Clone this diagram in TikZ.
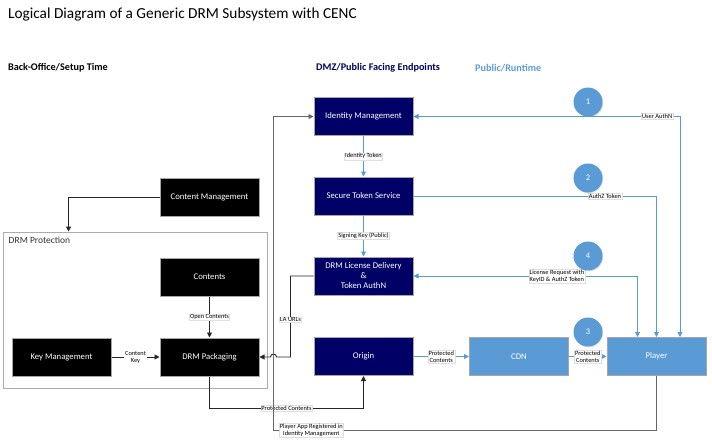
\documentclass[tikz,border=0pt]{standalone}
\usepackage{fontspec}
\setmainfont{Carlito}
\usepackage{tikz}
\usetikzlibrary{calc,positioning,arrows.meta,shadows}

\definecolor{navy}{HTML}{000066}
\definecolor{skyblue}{HTML}{5B9BD5}
\definecolor{boxrim}{HTML}{A6A6A6}

\begin{document}
\begin{tikzpicture}[
  x=1pt, y=-1pt,
  % Box styles
  box/.style={
    rectangle,
    draw=boxrim,
    line width=1pt,
    minimum width=99pt,
    minimum height=38pt,
    align=center,
    text=white,
    font=\fontsize{8.7}{10}\selectfont,
    fill=#1
  },
  navybox/.style={box=navy},
  blackbox/.style={box=black},
  bluebox/.style={box=skyblue},
  % Step badges
  badge/.style={
    circle,
    fill=skyblue,
    minimum size=29pt,
    inner sep=0pt,
    text=white,
    font=\fontsize{8.5}{10}\selectfont,
    drop shadow={shadow xshift=0.8pt, shadow yshift=-0.8pt, opacity=0.25}
  },
  % Arrow styles
  blkarrow/.style={
    -{Triangle[length=5pt,width=5pt]},
    line width=0.9pt,
    draw=black!85
  },
  bluarrow/.style={
    -{Triangle[length=5pt,width=5pt]},
    line width=0.9pt,
    draw=skyblue
  },
  % Connector labels
  lbl/.style={
    fill=white,
    draw=gray!25,
    line width=0.3pt,
    inner sep=0.7pt,
    align=center,
    font=\fontsize{6.4}{7}\selectfont
  },
  head/.style={
    anchor=west,
    font=\fontsize{10.2}{12}\selectfont\bfseries
  }
]
\useasboundingbox (0,0) rectangle (712,444);

% === TITLE & HEADINGS ===
\node[anchor=west, font=\fontsize{15.3}{17}\selectfont, inner sep=0pt] (title) at (8,15) {Logical Diagram of a Generic DRM Subsystem with CENC};
\node[head, inner sep=0pt] (hback) at (8,68) {Back-Office/Setup Time};
\node[head, inner sep=0pt, text=navy] (hdmz) at (316,68) {DMZ/Public Facing Endpoints};
\node[head, inner sep=0pt, text=skyblue] (hrun) at (475,68) {Public/Runtime};

% === DRM PROTECTION CONTAINER ===
\node[rectangle, draw=gray!65, line width=0.9pt, minimum width=264pt, minimum height=156pt] (prot) at (135,310) {};
\node[anchor=west, inner sep=0pt, font=\fontsize{9.5}{11}\selectfont, text=black!80] (protlbl) at ([xshift=6pt,yshift=-9pt]prot.north west) {DRM Protection};

% === NODES ===
\node[blackbox] (cms) at (209.5,197.5) {Content Management};
\node[blackbox] (contents) at (209.5,277) {Contents};
\node[blackbox] (keymgmt) at (61.5,357) {Key Management};
\node[blackbox] (pack) at (209.5,357) {DRM Packaging};

\node[navybox] (idm) at (363.5,116.5) {Identity Management};
\node[navybox] (sts) at (363.5,196) {Secure Token Service};
\node[navybox] (lic) at (363.5,276) {DRM License Delivery\\\&\\Token AuthN};
\node[navybox] (origin) at (363.5,356.5) {Origin};

\node[bluebox] (cdn) at (519,356.5) {CDN};
\node[bluebox] (player) at (656.5,356.5) {Player};

% === ARROWS (BACK-OFFICE) ===
\draw[blkarrow] (cms.west) -| ([xshift=66pt]prot.north west);
\draw[blkarrow] (contents.south) -- node[lbl]{Open Contents} (pack.north);
\draw[blkarrow] (keymgmt.east) -- node[lbl, draw=none]{Content\\Key} (pack.west);
\draw[blkarrow] (pack.south) |- node[lbl, pos=0.75]{Protected Contents} ([yshift=-32pt]origin.south) -- (origin.south);
\draw[blkarrow] (lic.west) -- ++(-23,0) |- node[lbl, pos=0.27]{LA URLs} ([xshift=17pt]pack.east)
  arc[start angle=0, end angle=180, radius=3pt] -- (pack.east);

% player registration loop
\coordinate (regbend) at (273,430);
\draw[blkarrow, draw=black!60] (player.south) |- node[lbl, pos=0.95]{Player App Registered in\\Identity Management} (regbend) |- (idm.west);

% === ARROWS (ENDPOINTS & RUNTIME) ===
\draw[bluarrow] (idm.south) -- node[lbl]{Identity Token} (sts.north);
\draw[bluarrow] (sts.south) -- node[lbl]{Signing Key (Public)} (lic.north);
\draw[bluarrow, {Triangle[length=5pt,width=5pt]}-{Triangle[length=5pt,width=5pt]}] (idm.east) -| node[lbl, pos=0.457]{User AuthN} ([xshift=23.5pt]player.north);
\draw[bluarrow] (sts.east) -| node[lbl, pos=0.394]{AuthZ Token} (player.north);
\draw[bluarrow, {Triangle[length=5pt,width=5pt]}-{Triangle[length=5pt,width=5pt]}] (lic.east) -| node[lbl, pos=0.32]{License Request with\\KeyID \& AuthZ Token} ([xshift=-19pt]player.north);
\draw[bluarrow] (origin.east) -- node[lbl]{Protected\\Contents} (cdn.west);
\draw[bluarrow] (cdn.east) -- node[lbl]{Protected\\Contents} (player.west);

% === STEP BADGES ===
\node[badge] (s1) at (588,102) {1};
\node[badge] (s2) at (588,178) {2};
\node[badge] (s4) at (588,256) {4};
\node[badge] (s3) at (588,332) {3};

\end{tikzpicture}
\end{document}
